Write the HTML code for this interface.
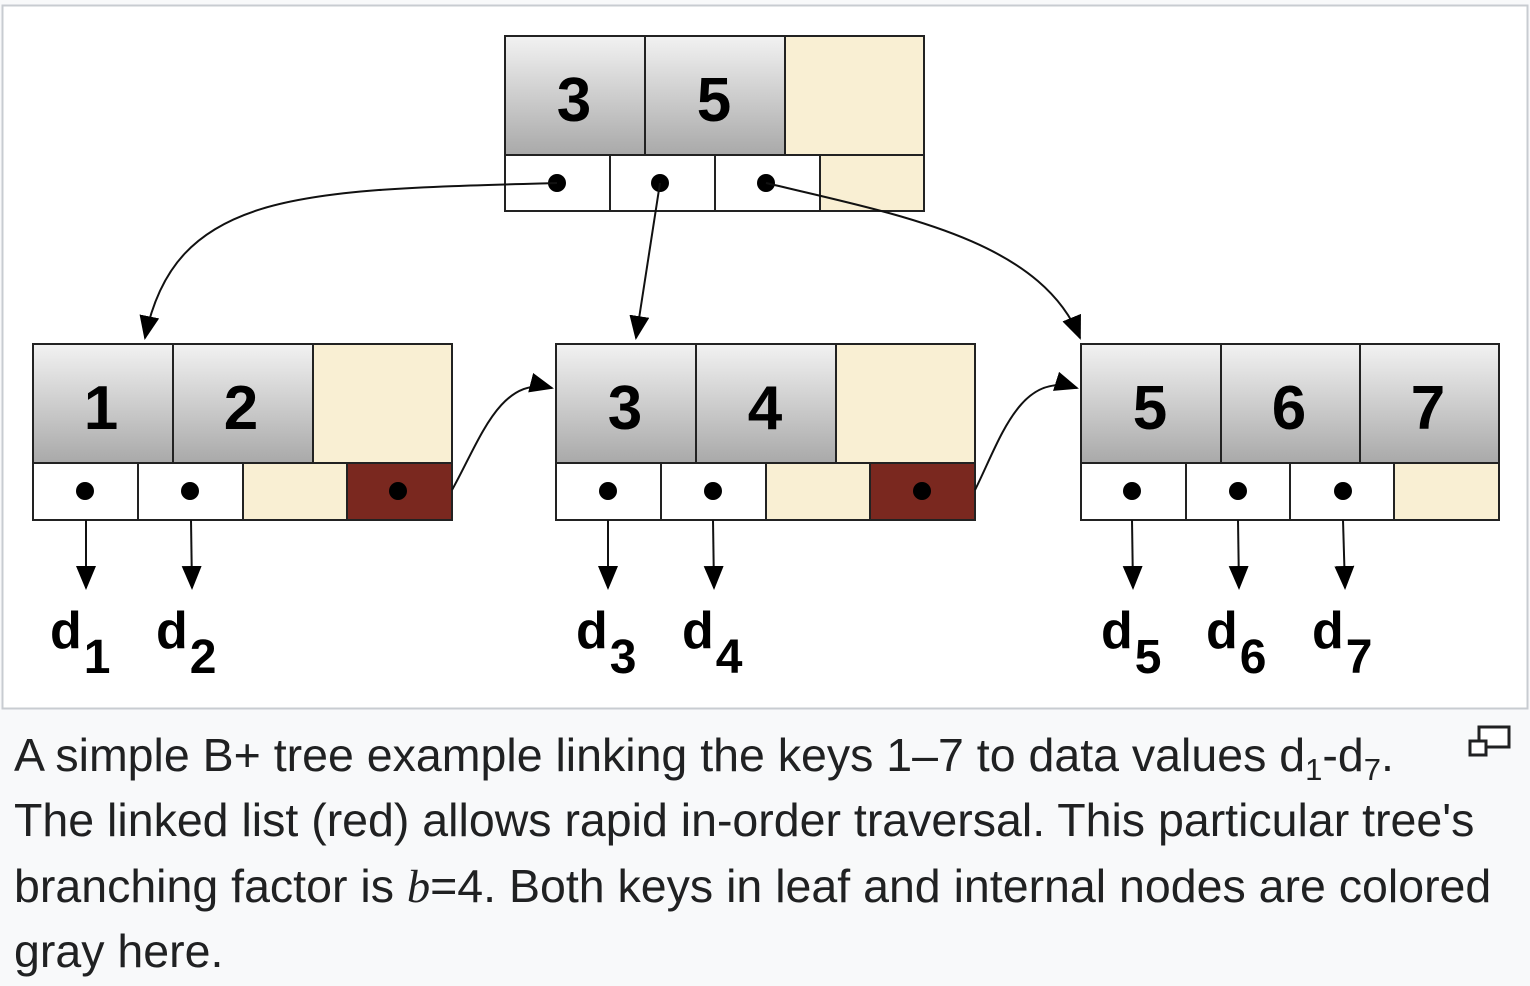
<!DOCTYPE html>
<html><head><meta charset="utf-8"><style>
body{margin:0;width:1530px;height:986px;background:#f8f9fa;overflow:hidden;font-family:"Liberation Sans",sans-serif}
.cap{position:absolute;left:14px;font-size:46.5px;color:#202122;white-space:nowrap;line-height:47px}
sub{font-size:31px;vertical-align:-9px;line-height:0}
</style></head><body>
<svg width="1530" height="986" style="position:absolute;left:0;top:0">
<defs>
<linearGradient id="g" x1="0" y1="0" x2="0" y2="1"><stop offset="0" stop-color="#f2f2f2"/><stop offset="1" stop-color="#a9a9a9"/></linearGradient>
<marker id="b" markerWidth="24" markerHeight="20" refX="22" refY="10" orient="auto" markerUnits="userSpaceOnUse"><path d="M0,0L24,10L0,20z"/></marker>
</defs>
<rect x="2.5" y="5.5" width="1525" height="703" fill="#fff" stroke="#c8ccd1" stroke-width="2"/>
<g stroke="#222" stroke-width="2">
<rect x="505" y="36" width="140" height="119" fill="url(#g)"/><rect x="645" y="36" width="140" height="119" fill="url(#g)"/><rect x="785" y="36" width="139" height="119" fill="#f9efd3"/>
<rect x="505" y="155" width="105" height="56" fill="#fff"/><rect x="610" y="155" width="105" height="56" fill="#fff"/><rect x="715" y="155" width="105" height="56" fill="#fff"/><rect x="820" y="155" width="104" height="56" fill="#f9efd3"/>
<rect x="33" y="344" width="140" height="119" fill="url(#g)"/><rect x="173" y="344" width="140" height="119" fill="url(#g)"/><rect x="313" y="344" width="139" height="119" fill="#f9efd3"/>
<rect x="33" y="463" width="105" height="57" fill="#fff"/><rect x="138" y="463" width="105" height="57" fill="#fff"/><rect x="243" y="463" width="104" height="57" fill="#f9efd3"/><rect x="347" y="463" width="105" height="57" fill="#7a281f"/>
<rect x="556" y="344" width="140" height="119" fill="url(#g)"/><rect x="696" y="344" width="140" height="119" fill="url(#g)"/><rect x="836" y="344" width="139" height="119" fill="#f9efd3"/>
<rect x="556" y="463" width="105" height="57" fill="#fff"/><rect x="661" y="463" width="105" height="57" fill="#fff"/><rect x="766" y="463" width="104" height="57" fill="#f9efd3"/><rect x="870" y="463" width="105" height="57" fill="#7a281f"/>
<rect x="1081" y="344" width="140" height="119" fill="url(#g)"/><rect x="1221" y="344" width="139" height="119" fill="url(#g)"/><rect x="1360" y="344" width="139" height="119" fill="url(#g)"/>
<rect x="1081" y="463" width="105" height="57" fill="#fff"/><rect x="1186" y="463" width="104" height="57" fill="#fff"/><rect x="1290" y="463" width="104" height="57" fill="#fff"/><rect x="1394" y="463" width="105" height="57" fill="#f9efd3"/>
</g>
<g fill="#000">
<circle cx="557" cy="183" r="9"/><circle cx="660" cy="183" r="9"/><circle cx="766" cy="183" r="9"/>
<circle cx="85" cy="491" r="9"/><circle cx="190" cy="491" r="9"/><circle cx="398" cy="491" r="9"/>
<circle cx="608" cy="491" r="9"/><circle cx="713" cy="491" r="9"/><circle cx="922" cy="491" r="9"/>
<circle cx="1132" cy="491" r="9"/><circle cx="1238" cy="491" r="9"/><circle cx="1343" cy="491" r="9"/>
</g>
<g fill="none" stroke="#111" stroke-width="2">
<path d="M557,183 C300,190 175,190 145,338" marker-end="url(#b)"/>
<path d="M660,183 L636,338" marker-end="url(#b)"/>
<path d="M766,183 C900,215 1040,240 1080,338" marker-end="url(#b)"/>
<path d="M452,490 C480,440 500,375 552,388" marker-end="url(#b)"/>
<path d="M975,490 C1000,440 1020,370 1077,388" marker-end="url(#b)"/>
<path d="M86,520 L86,588" marker-end="url(#b)"/><path d="M191,520 L192,588" marker-end="url(#b)"/>
<path d="M608,520 L608,588" marker-end="url(#b)"/><path d="M713,520 L714,588" marker-end="url(#b)"/>
<path d="M1132,520 L1133,588" marker-end="url(#b)"/><path d="M1238,520 L1239,588" marker-end="url(#b)"/><path d="M1343,520 L1345,588" marker-end="url(#b)"/>
</g>
<g font-family="Liberation Sans,sans-serif" font-weight="bold" font-size="62" text-anchor="middle" fill="#000">
<text x="574" y="121">3</text><text x="714" y="121">5</text>
<text x="101" y="429">1</text><text x="241" y="429">2</text>
<text x="625" y="429">3</text><text x="765" y="429">4</text>
<text x="1150" y="429">5</text><text x="1289" y="429">6</text><text x="1428" y="429">7</text>
</g>
<g font-family="Liberation Sans,sans-serif" font-weight="bold" font-size="52" fill="#000">
<text x="50" y="648">d<tspan font-size="48" dx="2" dy="25">1</tspan></text>
<text x="156" y="648">d<tspan font-size="48" dx="2" dy="25">2</tspan></text>
<text x="576" y="648">d<tspan font-size="48" dx="2" dy="25">3</tspan></text>
<text x="682" y="648">d<tspan font-size="48" dx="2" dy="25">4</tspan></text>
<text x="1101" y="648">d<tspan font-size="48" dx="2" dy="25">5</tspan></text>
<text x="1206" y="648">d<tspan font-size="48" dx="2" dy="25">6</tspan></text>
<text x="1312" y="648">d<tspan font-size="48" dx="2" dy="25">7</tspan></text>
</g>
<g fill="#fff" stroke="#202122" stroke-width="3">
<rect x="1479" y="727" width="30" height="20"/><rect x="1470" y="741" width="16" height="14"/>
</g>
</svg>
<div class="cap" style="top:732px">A simple B+ tree example linking the keys 1–7 to data values d<sub>1</sub>-d<sub>7</sub>.</div>
<div class="cap" style="top:797px">The linked list (red) allows rapid in-order traversal. This particular tree's</div>
<div class="cap" style="top:863px">branching factor is <i style="font-family:'Liberation Serif',serif">b</i>=4. Both keys in leaf and internal nodes are colored</div>
<div class="cap" style="top:928px">gray here.</div>
</body></html>
